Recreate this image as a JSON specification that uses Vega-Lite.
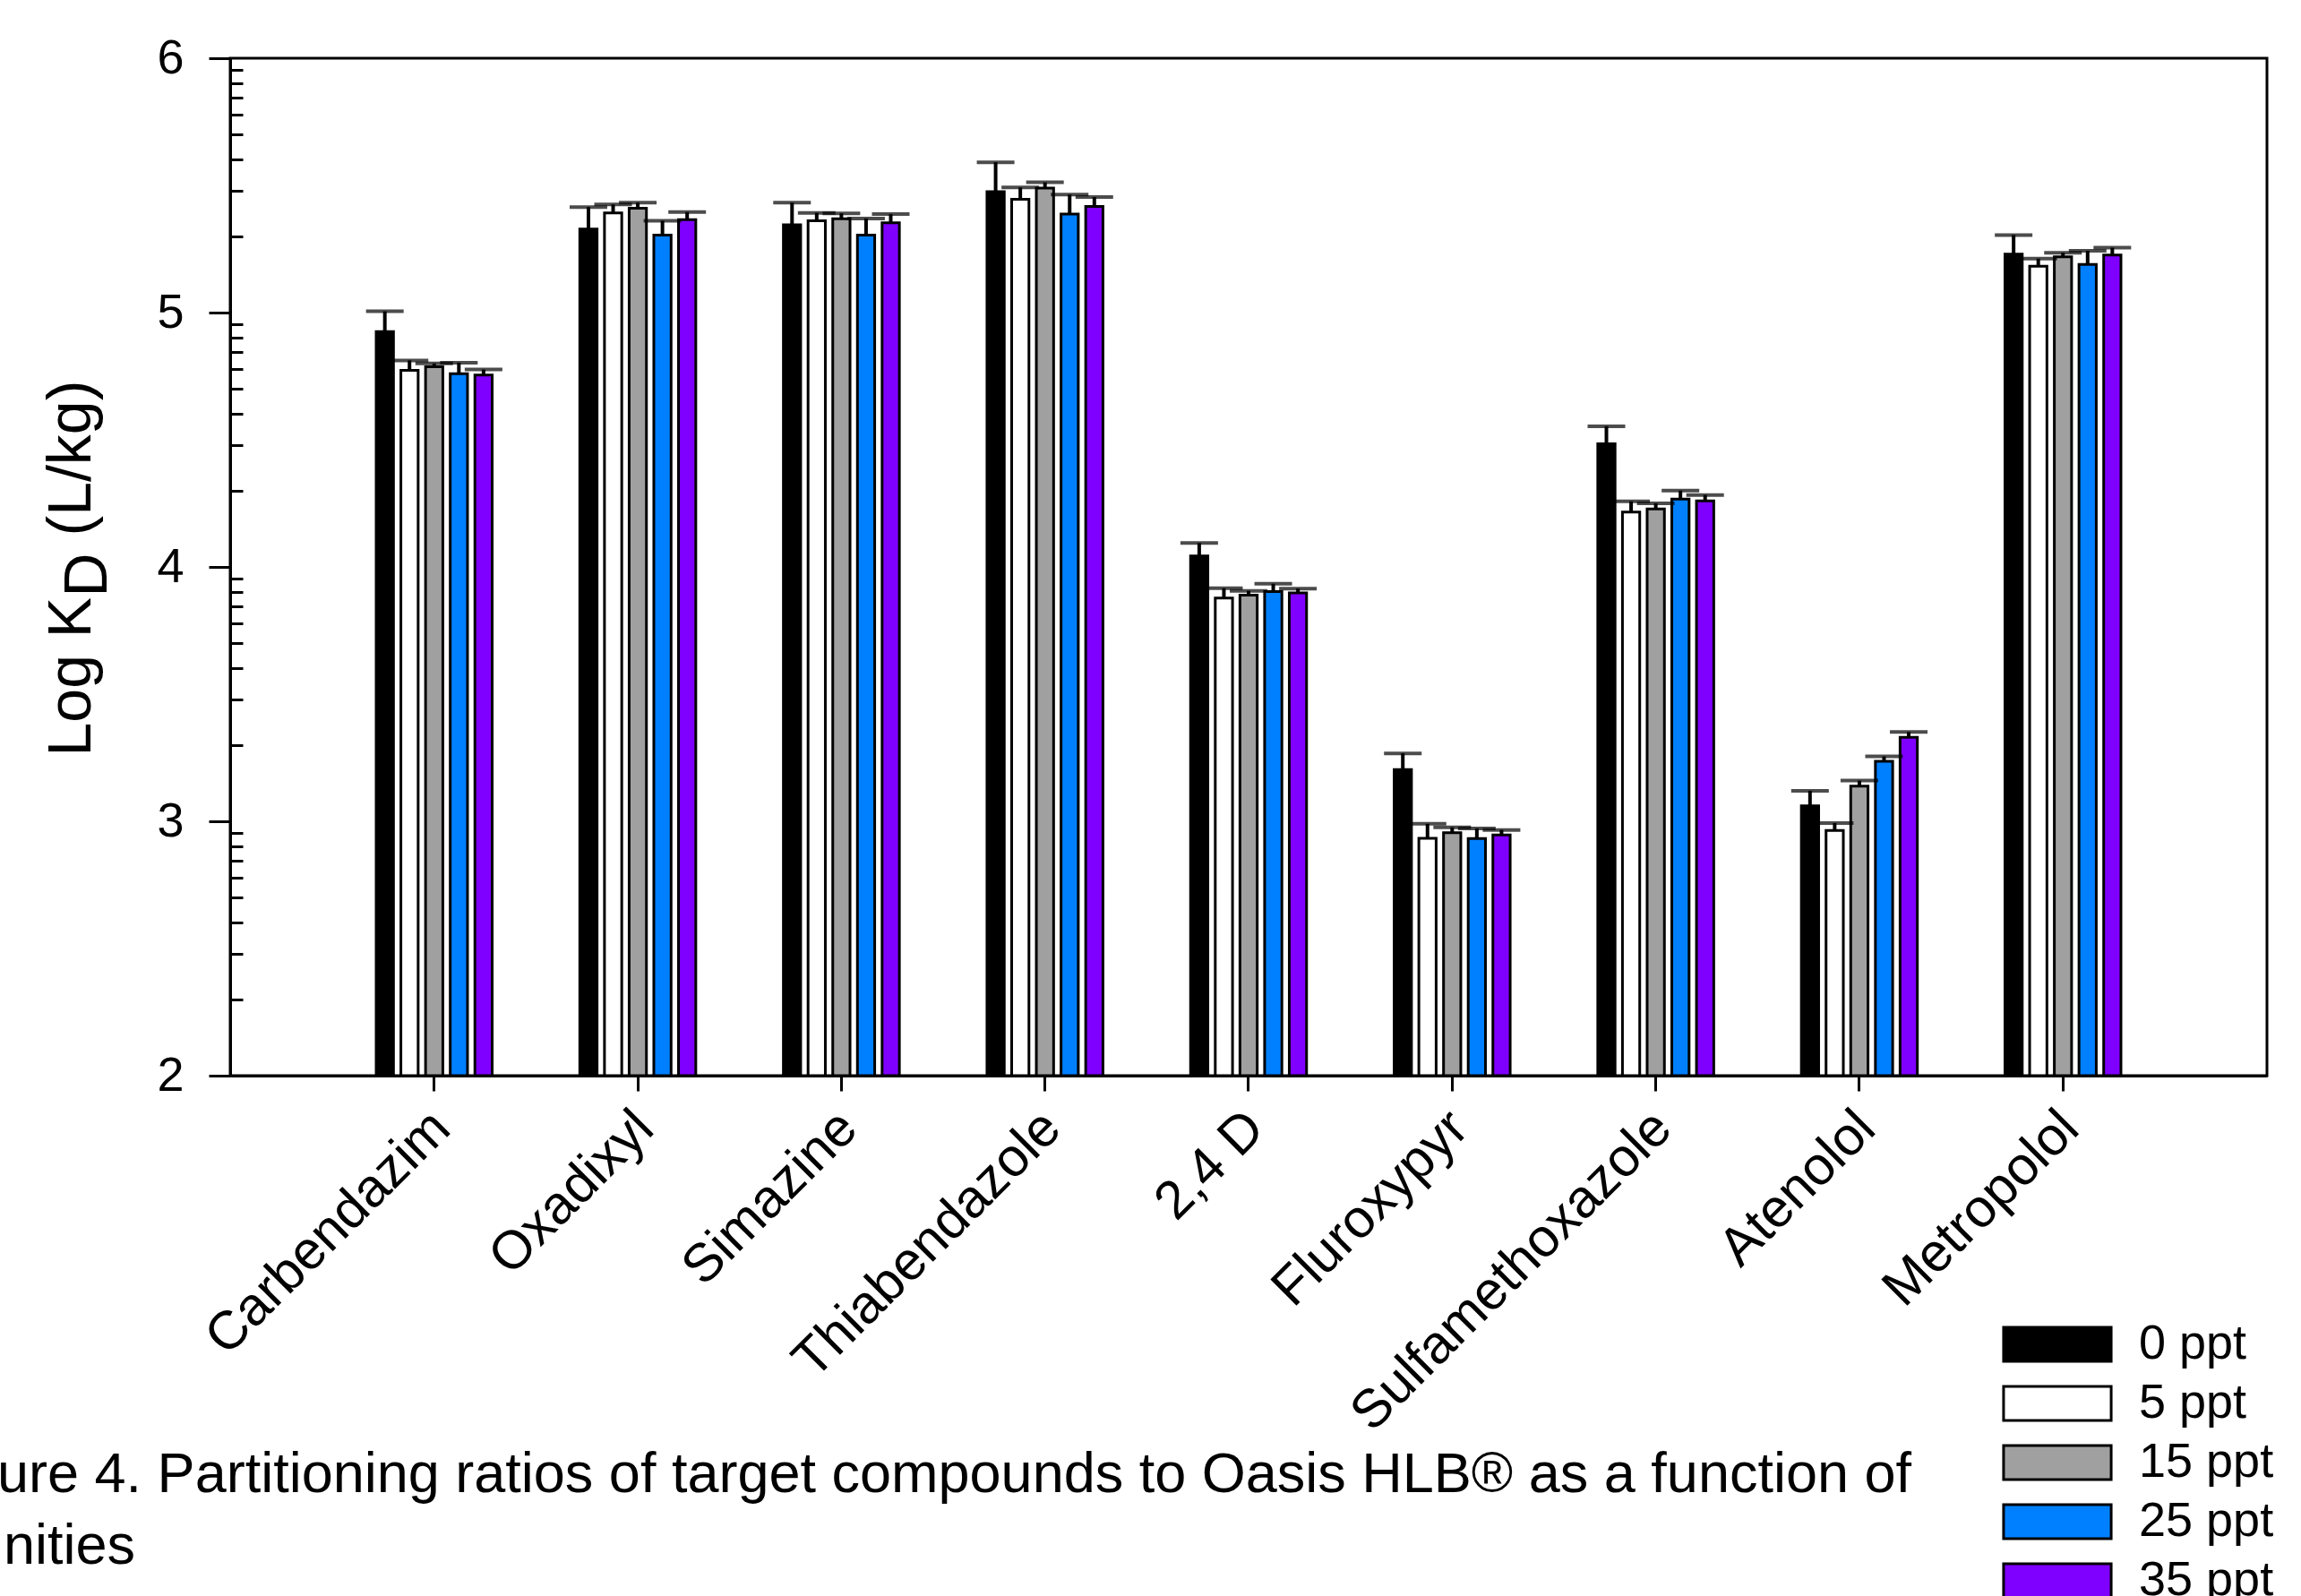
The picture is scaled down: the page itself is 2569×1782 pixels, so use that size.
{
  "$schema": "https://vega.github.io/schema/vega-lite/v6.json",
  "width": 2274,
  "height": 1136,
  "autosize": {"type": "none"},
  "padding": {"left": 257, "top": 65, "right": 38, "bottom": 581},
  "background": "white",
  "config": {
    "view": {"stroke": "black", "strokeWidth": 3},
    "font": "Liberation Sans"
  },
  "data": {
    "values": [
      {"compound": "Carbendazim", "salinity": "0 ppt", "logKd": 4.925, "upper": 5.005},
      {"compound": "Carbendazim", "salinity": "5 ppt", "logKd": 4.773, "upper": 4.812},
      {"compound": "Carbendazim", "salinity": "15 ppt", "logKd": 4.787, "upper": 4.800},
      {"compound": "Carbendazim", "salinity": "25 ppt", "logKd": 4.760, "upper": 4.803},
      {"compound": "Carbendazim", "salinity": "35 ppt", "logKd": 4.754, "upper": 4.776},
      {"compound": "Oxadixyl", "salinity": "0 ppt", "logKd": 5.328, "upper": 5.415},
      {"compound": "Oxadixyl", "salinity": "5 ppt", "logKd": 5.392, "upper": 5.425},
      {"compound": "Oxadixyl", "salinity": "15 ppt", "logKd": 5.410, "upper": 5.432},
      {"compound": "Oxadixyl", "salinity": "25 ppt", "logKd": 5.305, "upper": 5.361},
      {"compound": "Oxadixyl", "salinity": "35 ppt", "logKd": 5.365, "upper": 5.395},
      {"compound": "Simazine", "salinity": "0 ppt", "logKd": 5.345, "upper": 5.432},
      {"compound": "Simazine", "salinity": "5 ppt", "logKd": 5.361, "upper": 5.392},
      {"compound": "Simazine", "salinity": "15 ppt", "logKd": 5.369, "upper": 5.390},
      {"compound": "Simazine", "salinity": "25 ppt", "logKd": 5.305, "upper": 5.370},
      {"compound": "Simazine", "salinity": "35 ppt", "logKd": 5.353, "upper": 5.387},
      {"compound": "Thiabendazole", "salinity": "0 ppt", "logKd": 5.475, "upper": 5.591},
      {"compound": "Thiabendazole", "salinity": "5 ppt", "logKd": 5.445, "upper": 5.492},
      {"compound": "Thiabendazole", "salinity": "15 ppt", "logKd": 5.489, "upper": 5.512},
      {"compound": "Thiabendazole", "salinity": "25 ppt", "logKd": 5.387, "upper": 5.464},
      {"compound": "Thiabendazole", "salinity": "35 ppt", "logKd": 5.417, "upper": 5.454},
      {"compound": "2,4 D", "salinity": "0 ppt", "logKd": 4.043, "upper": 4.094},
      {"compound": "2,4 D", "salinity": "5 ppt", "logKd": 3.878, "upper": 3.916},
      {"compound": "2,4 D", "salinity": "15 ppt", "logKd": 3.889, "upper": 3.906},
      {"compound": "2,4 D", "salinity": "25 ppt", "logKd": 3.903, "upper": 3.934},
      {"compound": "2,4 D", "salinity": "35 ppt", "logKd": 3.898, "upper": 3.915},
      {"compound": "Fluroxypyr", "salinity": "0 ppt", "logKd": 3.203, "upper": 3.267},
      {"compound": "Fluroxypyr", "salinity": "5 ppt", "logKd": 2.933, "upper": 2.990},
      {"compound": "Fluroxypyr", "salinity": "15 ppt", "logKd": 2.955, "upper": 2.976},
      {"compound": "Fluroxypyr", "salinity": "25 ppt", "logKd": 2.932, "upper": 2.972},
      {"compound": "Fluroxypyr", "salinity": "35 ppt", "logKd": 2.946, "upper": 2.966},
      {"compound": "Sulfamethoxazole", "salinity": "0 ppt", "logKd": 4.484, "upper": 4.553},
      {"compound": "Sulfamethoxazole", "salinity": "5 ppt", "logKd": 4.216, "upper": 4.258},
      {"compound": "Sulfamethoxazole", "salinity": "15 ppt", "logKd": 4.228, "upper": 4.250},
      {"compound": "Sulfamethoxazole", "salinity": "25 ppt", "logKd": 4.267, "upper": 4.300},
      {"compound": "Sulfamethoxazole", "salinity": "35 ppt", "logKd": 4.260, "upper": 4.283},
      {"compound": "Atenolol", "salinity": "0 ppt", "logKd": 3.061, "upper": 3.120},
      {"compound": "Atenolol", "salinity": "5 ppt", "logKd": 2.964, "upper": 2.993},
      {"compound": "Atenolol", "salinity": "15 ppt", "logKd": 3.138, "upper": 3.160},
      {"compound": "Atenolol", "salinity": "25 ppt", "logKd": 3.236, "upper": 3.255},
      {"compound": "Atenolol", "salinity": "35 ppt", "logKd": 3.330, "upper": 3.351},
      {"compound": "Metropolol", "salinity": "0 ppt", "logKd": 5.230, "upper": 5.305},
      {"compound": "Metropolol", "salinity": "5 ppt", "logKd": 5.182, "upper": 5.212},
      {"compound": "Metropolol", "salinity": "15 ppt", "logKd": 5.219, "upper": 5.235},
      {"compound": "Metropolol", "salinity": "25 ppt", "logKd": 5.189, "upper": 5.243},
      {"compound": "Metropolol", "salinity": "35 ppt", "logKd": 5.226, "upper": 5.255}
    ]
  },
  "encoding": {
    "x": {
      "field": "compound",
      "type": "nominal",
      "sort": null,
      "scale": {"paddingInner": 0.394, "paddingOuter": 0.699},
      "axis": {
        "title": ["Figure 4. Partitioning ratios of target compounds to Oasis HLB® as a function of", "salinities"],
        "titleX": -348,
        "titleY": 464,
        "titleAlign": "left",
        "titleAnchor": null,
        "titleBaseline": "alphabetic",
        "titleFont": "Liberation Sans",
        "titleFontSize": 63,
        "titleFontWeight": "normal",
        "titleColor": "black",
        "titleLineHeight": 80,
        "labelAngle": -45,
        "labelAlign": "right",
        "labelBaseline": "middle",
        "labelFont": "Liberation Sans",
        "labelFontSize": 60,
        "labelColor": "black",
        "labelPadding": 32,
        "labelOffset": 8,
        "labelLimit": 2000,
        "labelOverlap": false,
        "tickSize": 17,
        "tickWidth": 3,
        "tickColor": "black",
        "domainColor": "black",
        "domainWidth": 3,
        "grid": false
      }
    },
    "xOffset": {
      "field": "salinity",
      "type": "nominal",
      "sort": ["0 ppt", "5 ppt", "15 ppt", "25 ppt", "35 ppt"],
      "scale": {"paddingInner": 0.3, "paddingOuter": 0.15}
    }
  },
  "resolve": {"axis": {"y": "independent"}},
  "layer": [
    {
      "mark": {"type": "bar", "stroke": "black", "strokeWidth": 3},
      "encoding": {
        "y": {
          "field": "logKd",
          "type": "quantitative",
          "scale": {"domain": [2, 6], "nice": false, "zero": false},
          "axis": {
            "orient": "left",
            "values": [2, 3, 4, 5, 6],
            "format": "d",
            "tickSize": 24,
            "tickWidth": 3,
            "tickColor": "black",
            "domainColor": "black",
            "domainWidth": 3,
            "labelFont": "Liberation Sans",
            "labelFontSize": 54,
            "labelColor": "black",
            "labelPadding": 28,
            "grid": false,
            "title": "Log K",
            "titleFont": "Liberation Sans",
            "titleFontSize": 68,
            "titleFontWeight": "normal",
            "titleColor": "black",
            "titleAngle": -90,
            "titleAlign": "left",
            "titleBaseline": "alphabetic",
            "titleX": -157,
            "titleY": 779
          }
        },
        "y2": {"datum": 2},
        "color": {
          "field": "salinity",
          "type": "nominal",
          "sort": ["0 ppt", "5 ppt", "15 ppt", "25 ppt", "35 ppt"],
          "scale": {
            "domain": ["0 ppt", "5 ppt", "15 ppt", "25 ppt", "35 ppt"],
            "range": ["#000000", "#ffffff", "#a0a0a0", "#0080ff", "#8000ff"]
          },
          "legend": {
            "title": null,
            "orient": "none",
            "legendX": 2013,
            "legendY": 1409,
            "padding": 0,
            "symbolType": "M-2.93,-0.93H2.93V0.93H-2.93Z",
            "symbolSize": 1681,
            "symbolStrokeColor": "black",
            "symbolStrokeWidth": 3,
            "symbolOpacity": 1,
            "labelFont": "Liberation Sans",
            "labelFontSize": 54,
            "labelColor": "black",
            "labelOffset": 64,
            "rowPadding": 12,
            "labelLimit": 1000
          }
        }
      }
    },
    {
      "mark": {"type": "rule", "color": "black", "strokeWidth": 4},
      "encoding": {
        "y": {
          "field": "logKd",
          "type": "quantitative",
          "scale": {"domain": [2, 6], "nice": false, "zero": false},
          "axis": {
            "orient": "left",
            "values": [2.30103, 2.47712, 2.60206, 2.69897, 2.77815, 2.8451, 2.90309, 2.95424,
                       3.30103, 3.47712, 3.60206, 3.69897, 3.77815, 3.8451, 3.90309, 3.95424,
                       4.30103, 4.47712, 4.60206, 4.69897, 4.77815, 4.8451, 4.90309, 4.95424,
                       5.30103, 5.47712, 5.60206, 5.69897, 5.77815, 5.8451, 5.90309, 5.95424],
            "tickSize": -14,
            "tickWidth": 3,
            "tickColor": "black",
            "domain": false,
            "labels": false,
            "grid": false,
            "title": "D",
            "titleFont": "Liberation Sans",
            "titleFontSize": 68,
            "titleFontWeight": "normal",
            "titleColor": "black",
            "titleAngle": -90,
            "titleAlign": "left",
            "titleBaseline": "alphabetic",
            "titleX": -139,
            "titleY": 601
          }
        },
        "y2": {"field": "upper"}
      }
    },
    {
      "mark": {"type": "tick", "color": "black", "thickness": 4, "size": 42, "orient": "horizontal"},
      "encoding": {
        "y": {
          "field": "upper",
          "type": "quantitative",
          "scale": {"domain": [2, 6], "nice": false, "zero": false},
          "axis": {
            "orient": "left",
            "ticks": false,
            "labels": false,
            "domain": false,
            "grid": false,
            "title": "(L/kg)",
            "titleFont": "Liberation Sans",
            "titleFontSize": 68,
            "titleFontWeight": "normal",
            "titleColor": "black",
            "titleAngle": -90,
            "titleAlign": "left",
            "titleBaseline": "alphabetic",
            "titleX": -157,
            "titleY": 533
          }
        }
      }
    }
  ]
}
